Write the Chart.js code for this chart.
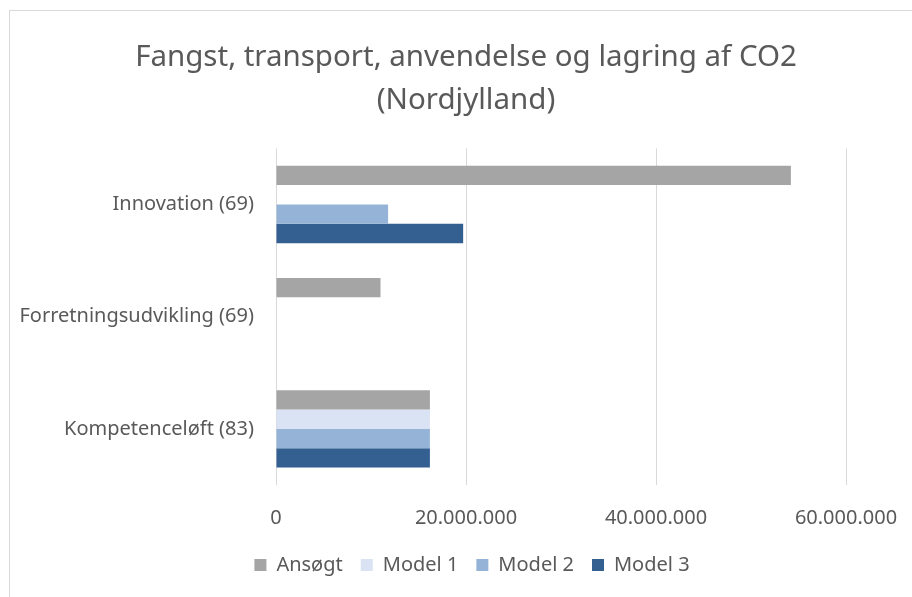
<!DOCTYPE html>
<html>
<head>
<meta charset="utf-8">
<script src="https://cdn.jsdelivr.net/npm/chart.js@4"></script>
<style>
  html, body { margin: 0; padding: 0; background: #fff; }
  #wrap { position: relative; width: 912px; height: 597px; overflow: hidden; }
  #frame { position: absolute; left: 9px; top: 10px; width: 1000px; height: 700px;
           border-left: 1px solid #d9d9d9; border-top: 1px solid #d9d9d9; }
  canvas { position: absolute; left: 0; top: 0; }
</style>
</head>
<body>
<div id="wrap">
  <div id="frame"></div>
  <canvas id="co2Chart" width="912" height="597"></canvas>
</div>
<script>
// Data
const categories = ['Innovation (69)', 'Forretningsudvikling (69)', 'Kompetenceløft (83)'];
const seriesNames = ['Ansøgt', 'Model 1', 'Model 2', 'Model 3'];
const ansoegt = [54200000, 11000000, 16200000];
const model1 = [null, null, 16200000];
const model2 = [11800000, null, 16200000];
const model3 = [19700000, null, 16200000];
const xTicks = [0, 20000000, 40000000, 60000000];

const colors = ['#a5a5a5', '#dae3f3', '#95b3d7', '#335f91'];
const textColor = '#595959';
const font = 'Noto Sans';

// dansk tusindtalsseparator
const fmt = v => String(v).replace(/\B(?=(\d{3})+(?!\d))/g, '.');

// lange kategorinavne maa gaa ud over akseboksen (ellers klippes de),
// og legenden sidder lidt til hoejre som i Excel
const labelRoom = {
    id: 'labelRoom',
    afterLayout(chart) {
        chart.scales.y.left = 0;
        chart.legend.left += 6;
        chart.legend.right += 6;
    }
};

const ctx = document.getElementById('co2Chart').getContext('2d');
const co2Chart = new Chart(ctx, {
    type: 'bar',
    data: {
        labels: categories,
        datasets: [ansoegt, model1, model2, model3].map((d, i) => ({
            label: seriesNames[i],
            data: d,
            backgroundColor: colors[i],
            borderWidth: 0,
            categoryPercentage: 0.69,
            barPercentage: 1
        }))
    },
    plugins: [labelRoom],
    options: {
        indexAxis: 'y',
        responsive: false,
        animation: false,
        layout: { padding: { top: 10, left: 86, right: 66, bottom: 12 } },
        plugins: {
            title: {
                display: true,
                text: ['Fangst, transport, anvendelse og lagring af CO2', '(Nordjylland)'],
                color: textColor,
                font: { family: font, size: 29.5, weight: 'normal', lineHeight: 1.43 },
                padding: { top: 27, bottom: 27 }
            },
            legend: {
                position: 'bottom',
                labels: {
                    color: textColor,
                    font: { family: font, size: 20 },
                    boxWidth: 12,
                    boxHeight: 12,
                    padding: 18
                }
            },
            tooltip: { enabled: false }
        },
        scales: {
            x: {
                min: 0,
                max: 60000000,
                afterBuildTicks: s => { s.ticks = xTicks.map(v => ({ value: v })); },
                afterFit: s => {
                    s.height -= 14;
                    s.paddingLeft = 0;
                    s.paddingRight = 0;
                },
                ticks: {
                    color: textColor,
                    font: { family: font, size: 20 },
                    padding: 21,
                    callback: v => fmt(v)
                },
                grid: { color: '#d9d9d9', lineWidth: 1, drawTicks: false },
                border: { display: false }
            },
            y: {
                afterFit: s => { s.width = 190; },
                ticks: {
                    color: textColor,
                    font: { family: font, size: 20 },
                    padding: 14
                },
                grid: { display: false },
                border: { display: false }
            }
        }
    }
});
</script>
</body>
</html>
